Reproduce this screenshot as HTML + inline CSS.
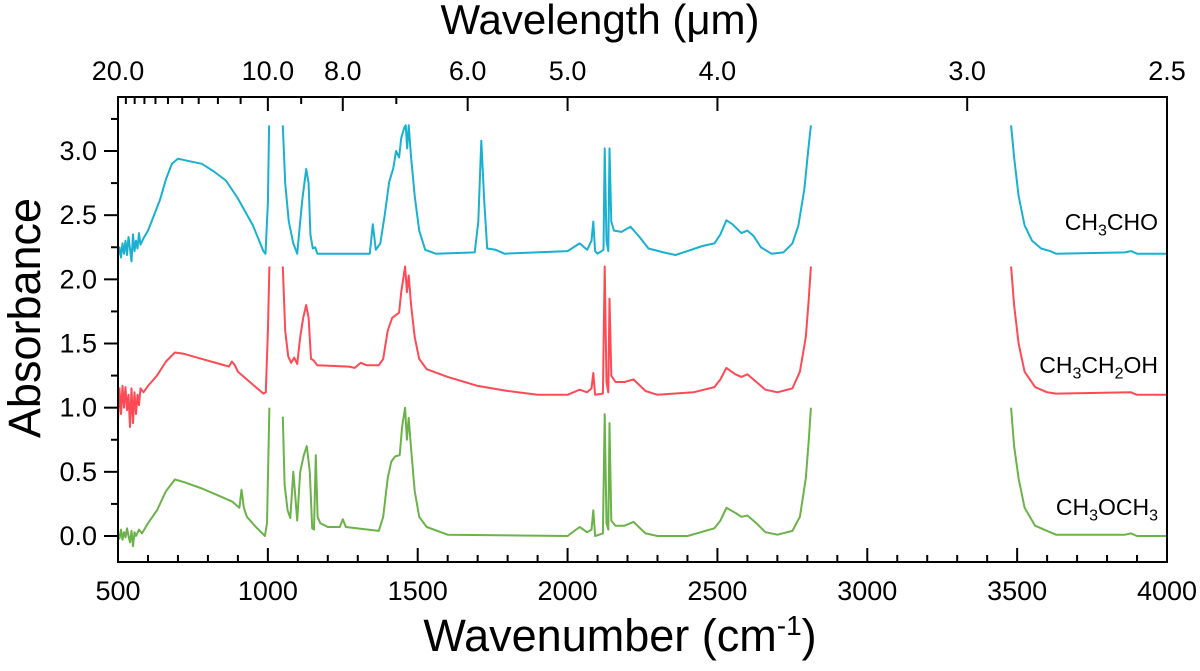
<!DOCTYPE html>
<html><head><meta charset="utf-8"><style>
html,body{margin:0;padding:0;background:#fff}
svg{display:block;font-family:"Liberation Sans",Arial,sans-serif}
</style></head><body>
<svg id="c" width="1200" height="671" viewBox="0 0 1200 671"></svg>
<script>
const xTicks=[500,1000,1500,2000,2500,3000,3500,4000];
const yTicks=[0.0,0.5,1.0,1.5,2.0,2.5,3.0];
const topMajor=[20.0,10.0,8.0,6.0,5.0,4.0,3.0,2.5];
const topMinor=[19,18,17,16,15,14,13,12,11,9,7];
const seriesNames=["CH3CHO","CH3CH2OH","CH3OCH3"];
// [wavenumber, absorbance]; null = break
const acetaldehyde=[[500,2.18],[505,2.25],[510,2.17],[515,2.28],[520,2.2],[525,2.3],[530,2.19],[535,2.33],[540,2.24],[545,2.14],[550,2.35],[555,2.22],[560,2.3],[565,2.24],[570,2.36],[575,2.27],[585,2.32],[600,2.38],[620,2.5],[640,2.62],[660,2.78],[680,2.9],[700,2.94],[740,2.92],[780,2.9],[820,2.84],[860,2.77],[900,2.63],[950,2.42],[985,2.22],[992,2.2],[1000,2.6],[1004,3.2],null,[1050,3.2],[1058,2.75],[1070,2.45],[1085,2.28],[1098,2.2],[1106,2.4],[1115,2.62],[1128,2.86],[1136,2.75],[1142,2.35],[1150,2.24],[1158,2.25],[1165,2.2],[1340,2.2],[1350,2.43],[1360,2.23],[1375,2.28],[1390,2.5],[1405,2.76],[1418,2.86],[1428,3.0],[1438,2.95],[1445,3.1],[1455,3.18],[1460,3.2],[1465,3.02],[1470,3.2],[1478,2.95],[1490,2.65],[1505,2.38],[1525,2.23],[1560,2.2],[1690,2.21],[1702,2.45],[1712,3.08],[1722,2.6],[1732,2.24],[1760,2.23],[1790,2.2],[2000,2.22],[2040,2.28],[2065,2.23],[2080,2.3],[2086,2.45],[2092,2.22],[2100,2.2],[2120,2.23],[2124,3.02],[2130,2.3],[2136,2.22],[2140,3.02],[2146,2.45],[2155,2.38],[2180,2.37],[2210,2.41],[2240,2.33],[2270,2.24],[2320,2.21],[2360,2.19],[2400,2.22],[2450,2.26],[2490,2.28],[2510,2.35],[2530,2.46],[2550,2.43],[2580,2.36],[2600,2.38],[2620,2.34],[2645,2.25],[2680,2.2],[2720,2.21],[2750,2.28],[2770,2.42],[2790,2.7],[2805,3.05],[2812,3.2],null,[3480,3.2],[3490,2.95],[3505,2.65],[3525,2.42],[3550,2.3],[3580,2.24],[3610,2.22],[3630,2.2],[3860,2.21],[3880,2.22],[3900,2.2],[4000,2.2]];
const ethanol=[[500,0.9],[505,1.15],[510,0.95],[515,1.17],[520,1.0],[525,1.16],[530,0.98],[535,1.1],[540,0.85],[545,1.15],[550,0.88],[555,1.12],[560,0.95],[565,1.1],[570,1.02],[575,1.15],[585,1.12],[600,1.17],[630,1.25],[660,1.36],[690,1.43],[720,1.42],[780,1.38],[840,1.34],[870,1.32],[880,1.36],[890,1.33],[900,1.28],[950,1.18],[985,1.11],[993,1.12],[1000,1.6],[1005,2.1],null,[1050,2.1],[1058,1.6],[1068,1.4],[1078,1.35],[1088,1.39],[1098,1.34],[1108,1.55],[1118,1.7],[1128,1.8],[1136,1.7],[1144,1.38],[1152,1.37],[1165,1.33],[1270,1.32],[1290,1.31],[1310,1.35],[1330,1.33],[1370,1.33],[1385,1.38],[1400,1.6],[1415,1.7],[1438,1.74],[1445,1.9],[1458,2.1],[1464,1.9],[1470,2.03],[1478,1.8],[1490,1.55],[1505,1.38],[1530,1.3],[1600,1.24],[1700,1.17],[1800,1.13],[1900,1.1],[2000,1.1],[2040,1.14],[2065,1.12],[2080,1.15],[2086,1.27],[2092,1.1],[2118,1.11],[2124,2.1],[2130,1.2],[2136,1.12],[2140,1.85],[2146,1.25],[2160,1.2],[2190,1.2],[2220,1.22],[2260,1.13],[2300,1.1],[2420,1.12],[2490,1.16],[2510,1.22],[2530,1.31],[2560,1.26],[2580,1.24],[2600,1.26],[2630,1.2],[2660,1.14],[2700,1.12],[2750,1.15],[2775,1.28],[2795,1.55],[2805,1.85],[2812,2.1],null,[3480,2.1],[3490,1.8],[3505,1.5],[3525,1.28],[3560,1.16],[3600,1.12],[3630,1.11],[3880,1.12],[3900,1.1],[4000,1.1]];
const dme=[[500,0.02],[505,-0.02],[510,0.05],[515,-0.03],[520,0.03],[525,-0.01],[530,0.06],[535,0.0],[540,-0.05],[545,0.04],[550,-0.08],[555,0.03],[560,0.0],[570,0.05],[580,0.02],[600,0.1],[630,0.2],[660,0.35],[690,0.44],[720,0.42],[780,0.37],[840,0.31],[880,0.27],[905,0.22],[912,0.36],[920,0.22],[930,0.15],[960,0.07],[990,0.0],[997,0.1],[1005,1.0],null,[1050,0.93],[1056,0.4],[1066,0.2],[1075,0.14],[1085,0.5],[1092,0.3],[1098,0.12],[1108,0.5],[1120,0.63],[1130,0.7],[1140,0.5],[1148,0.06],[1154,0.05],[1160,0.63],[1166,0.15],[1175,0.1],[1200,0.07],[1240,0.07],[1250,0.13],[1260,0.07],[1370,0.04],[1385,0.15],[1400,0.45],[1412,0.58],[1425,0.62],[1440,0.63],[1448,0.85],[1458,1.0],[1464,0.75],[1470,0.92],[1478,0.68],[1490,0.35],[1505,0.15],[1530,0.07],[1600,0.01],[2000,0.0],[2040,0.07],[2065,0.03],[2080,0.05],[2086,0.2],[2092,0.0],[2118,0.02],[2124,0.95],[2130,0.1],[2136,0.05],[2140,0.88],[2146,0.12],[2160,0.08],[2190,0.08],[2220,0.11],[2260,0.02],[2300,0.0],[2400,0.0],[2490,0.06],[2510,0.12],[2530,0.22],[2560,0.18],[2580,0.15],[2600,0.16],[2630,0.1],[2660,0.03],[2700,0.01],[2750,0.04],[2775,0.15],[2795,0.45],[2805,0.75],[2812,1.0],null,[3480,1.0],[3490,0.7],[3505,0.45],[3525,0.22],[3560,0.08],[3600,0.04],[3630,0.01],[3860,0.01],[3880,0.02],[3900,0.0],[4000,0.0]];
const colors=["#1ab0d0","#ff4a55","#6cb24a"];
const X0=118,X1=1167,Y0=562,Y1=97;
const xs=v=>X0+(v-500)*(X1-X0)/3500;
const ys=v=>536-v*128.33;
const svg=document.getElementById('c');
const NS="http://www.w3.org/2000/svg";
function mk(t,a,p){const e=document.createElementNS(NS,t);for(const k in a)e.setAttribute(k,a[k]);(p||svg).appendChild(e);return e;}
[acetaldehyde,ethanol,dme].forEach((s,i)=>{
  let d="",pen=false;
  s.forEach(p=>{if(p===null){pen=false;return;}d+=(pen?"L":"M")+xs(p[0]).toFixed(1)+","+ys(p[1]).toFixed(1);pen=true;});
  const el=mk('path',{d:d,fill:'none',stroke:colors[i],'stroke-width':2,'stroke-linejoin':'round'});
  
  
});
const fr=mk('rect',{x:X0,y:Y1,width:X1-X0,height:Y0-Y1,fill:'none',stroke:'#000','stroke-width':2});


for(let v=500;v<=4000;v+=100){const maj=v%500===0;
  const t=mk('line',{x1:xs(v),x2:xs(v),y1:Y0,y2:Y0-(maj?14:7),stroke:'#000','stroke-width':2});
  
  }
xTicks.forEach(v=>{const t=mk('text',{x:xs(v),y:600,'font-size':27,'text-anchor':'middle'});t.textContent=v;
  
  });
for(let i=0;i<=13;i++){const v=i*0.25;const maj=i%2===0;
  const t=mk('line',{x1:X0,x2:X0-(maj?14:7),y1:ys(v),y2:ys(v),stroke:'#000','stroke-width':2});
  
  }
yTicks.forEach(v=>{const t=mk('text',{x:97,y:ys(v)+9,'font-size':27,'text-anchor':'end'});t.textContent=v.toFixed(1);
  
  });
topMajor.forEach(w=>{const x=xs(10000/w);
  const t=mk('line',{x1:x,x2:x,y1:Y1,y2:Y1+14,stroke:'#000','stroke-width':2});
  
  
  const l=mk('text',{x:x,y:80,'font-size':27,'text-anchor':'middle'});l.textContent=w.toFixed(1);
  
  });
topMinor.forEach(w=>{const x=xs(10000/w);
  const t=mk('line',{x1:x,x2:x,y1:Y1,y2:Y1+7,stroke:'#000','stroke-width':2});
  
  });
</script>
<div style="position:absolute;left:0;top:0;width:1200px;height:671px;pointer-events:none;font-family:'Liberation Sans',Arial,sans-serif;color:#000">
  <div style="position:absolute;left:0;width:1200px;top:-4px;text-align:center;font-size:42px;line-height:48px">Wavelength (&mu;m)</div>
  <div style="position:absolute;left:0;width:1240px;top:600px;text-align:center;font-size:45px;line-height:52px">Wavenumber (cm<sup style="font-size:28px">-1</sup>)</div>
  <div style="position:absolute;left:-125px;top:292px;width:300px;text-align:center;font-size:45px;line-height:52px;transform:rotate(-90deg)">Absorbance</div>
  <div style="position:absolute;right:42px;top:209px;font-size:23px">CH<sub style="font-size:16px">3</sub>CHO</div>
  <div style="position:absolute;right:42px;top:352px;font-size:23px">CH<sub style="font-size:16px">3</sub>CH<sub style="font-size:16px">2</sub>OH</div>
  <div style="position:absolute;right:42px;top:494px;font-size:23px">CH<sub style="font-size:16px">3</sub>OCH<sub style="font-size:16px">3</sub></div>
</div>
</body></html>
